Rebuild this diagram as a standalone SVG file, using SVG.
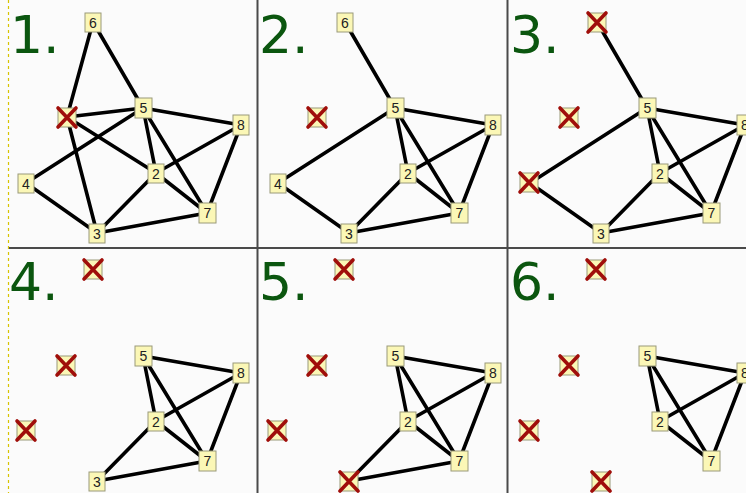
<svg xmlns="http://www.w3.org/2000/svg" width="746" height="493" viewBox="0 0 746 493">
<style>
.bg{fill:#fbfbfb}
.div{stroke:#4a4a4a;stroke-width:2;fill:none}
.dash{stroke:#d8c400;stroke-width:1.2;stroke-dasharray:3,3;fill:none}
.lbl{font-family:"DejaVu Sans",sans-serif;font-size:52px;fill:#0b560f}
.e line{stroke:#000;stroke-width:3.6;stroke-linecap:round}
.box{fill:#fbf7b6;stroke:#9a9a7a;stroke-width:1}
.num{font-family:"Liberation Sans",Arial,sans-serif;font-size:14px;fill:#222;text-anchor:middle}
.x{stroke:#a00e0a;stroke-width:3.6;stroke-linecap:round}
</style>
<rect class="bg" x="0" y="0" width="746" height="493"/>
<g id="frame">
<line class="dash" x1="8.5" y1="0" x2="8.5" y2="493"/>
<line class="div" x1="9" y1="248" x2="746" y2="248"/>
<line class="div" x1="257.5" y1="0" x2="257.5" y2="493"/>
<line class="div" x1="507.5" y1="0" x2="507.5" y2="493"/>
</g>

<!-- Panel 1 -->
<g id="panel1">
<text class="lbl" x="10" y="53">1.</text>
<g class="e" id="p1-edges">
<line x1="93" y1="22" x2="67" y2="117"/>
<line x1="93" y1="22" x2="143" y2="108"/>
<line x1="67" y1="117" x2="143" y2="108"/>
<line x1="67" y1="117" x2="156" y2="173"/>
<line x1="67" y1="117" x2="97" y2="233"/>
<line x1="143" y1="108" x2="26" y2="183"/>
<line x1="143" y1="108" x2="241" y2="125"/>
<line x1="143" y1="108" x2="156" y2="173"/>
<line x1="143" y1="108" x2="207" y2="213"/>
<line x1="241" y1="125" x2="156" y2="173"/>
<line x1="241" y1="125" x2="207" y2="213"/>
<line x1="26" y1="183" x2="97" y2="233"/>
<line x1="156" y1="173" x2="97" y2="233"/>
<line x1="156" y1="173" x2="207" y2="213"/>
<line x1="97" y1="233" x2="207" y2="213"/>
</g>
<g id="p1-n1"><rect class="box" x="58" y="108" width="18" height="19"/><path class="x" d="M58,108L76,127M76,108L58,127"/></g>
<g id="p1-n2"><rect class="box" x="148" y="164" width="16" height="19"/><text class="num" x="156" y="178.5">2</text></g>
<g id="p1-n3"><rect class="box" x="89" y="224" width="16" height="19"/><text class="num" x="97" y="238.5">3</text></g>
<g id="p1-n4"><rect class="box" x="18" y="174" width="16" height="19"/><text class="num" x="26" y="188.5">4</text></g>
<g id="p1-n5"><rect class="box" x="135" y="98" width="17" height="20"/><text class="num" x="143.5" y="113">5</text></g>
<g id="p1-n6"><rect class="box" x="85" y="13" width="16" height="19"/><text class="num" x="93" y="27.5">6</text></g>
<g id="p1-n7"><rect class="box" x="199" y="203" width="17" height="20"/><text class="num" x="207.5" y="218">7</text></g>
<g id="p1-n8"><rect class="box" x="233" y="115" width="16" height="20"/><text class="num" x="241" y="130">8</text></g>
</g>

<!-- Panel 2 -->
<g id="panel2" transform="translate(252,0)">
<text class="lbl" x="7" y="53">2.</text>
<g class="e" id="p2-edges">
<line x1="93" y1="22" x2="143" y2="108"/>
<line x1="143" y1="108" x2="26" y2="183"/>
<line x1="143" y1="108" x2="241" y2="125"/>
<line x1="143" y1="108" x2="156" y2="173"/>
<line x1="143" y1="108" x2="207" y2="213"/>
<line x1="241" y1="125" x2="156" y2="173"/>
<line x1="241" y1="125" x2="207" y2="213"/>
<line x1="26" y1="183" x2="97" y2="233"/>
<line x1="156" y1="173" x2="97" y2="233"/>
<line x1="156" y1="173" x2="207" y2="213"/>
<line x1="97" y1="233" x2="207" y2="213"/>
</g>
<g id="p2-n1"><rect class="box" x="56" y="108" width="18" height="19"/><path class="x" d="M56,108L74,127M74,108L56,127"/></g>
<g id="p2-n2"><rect class="box" x="148" y="164" width="16" height="19"/><text class="num" x="156" y="178.5">2</text></g>
<g id="p2-n3"><rect class="box" x="89" y="224" width="16" height="19"/><text class="num" x="97" y="238.5">3</text></g>
<g id="p2-n4"><rect class="box" x="18" y="174" width="16" height="19"/><text class="num" x="26" y="188.5">4</text></g>
<g id="p2-n5"><rect class="box" x="135" y="98" width="17" height="20"/><text class="num" x="143.5" y="113">5</text></g>
<g id="p2-n6"><rect class="box" x="85" y="13" width="16" height="19"/><text class="num" x="93" y="27.5">6</text></g>
<g id="p2-n7"><rect class="box" x="199" y="203" width="17" height="20"/><text class="num" x="207.5" y="218">7</text></g>
<g id="p2-n8"><rect class="box" x="233" y="115" width="16" height="20"/><text class="num" x="241" y="130">8</text></g>
</g>

<!-- Panel 3 -->
<g id="panel3" transform="translate(504,0)">
<text class="lbl" x="6" y="53">3.</text>
<g class="e" id="p3-edges">
<line x1="93" y1="22" x2="143" y2="108"/>
<line x1="143" y1="108" x2="26" y2="183"/>
<line x1="143" y1="108" x2="241" y2="125"/>
<line x1="143" y1="108" x2="156" y2="173"/>
<line x1="143" y1="108" x2="207" y2="213"/>
<line x1="241" y1="125" x2="156" y2="173"/>
<line x1="241" y1="125" x2="207" y2="213"/>
<line x1="26" y1="183" x2="97" y2="233"/>
<line x1="156" y1="173" x2="97" y2="233"/>
<line x1="156" y1="173" x2="207" y2="213"/>
<line x1="97" y1="233" x2="207" y2="213"/>
</g>
<g id="p3-n1"><rect class="box" x="56" y="108" width="18" height="19"/><path class="x" d="M56,108L74,127M74,108L56,127"/></g>
<g id="p3-n2"><rect class="box" x="148" y="164" width="16" height="19"/><text class="num" x="156" y="178.5">2</text></g>
<g id="p3-n3"><rect class="box" x="89" y="224" width="16" height="19"/><text class="num" x="97" y="238.5">3</text></g>
<g id="p3-n4"><rect class="box" x="16" y="173" width="18" height="19"/><path class="x" d="M16,173L34,192M34,173L16,192"/></g>
<g id="p3-n5"><rect class="box" x="135" y="98" width="17" height="20"/><text class="num" x="143.5" y="113">5</text></g>
<g id="p3-n6"><rect class="box" x="84" y="13" width="18" height="19"/><path class="x" d="M84,13L102,32M102,13L84,32"/></g>
<g id="p3-n7"><rect class="box" x="199" y="203" width="17" height="20"/><text class="num" x="207.5" y="218">7</text></g>
<g id="p3-n8"><rect class="box" x="233" y="115" width="16" height="20"/><text class="num" x="241" y="130">8</text></g>
</g>

<!-- Panel 4 -->
<g id="panel4" transform="translate(0,248)">
<text class="lbl" x="9" y="52">4.</text>
<g class="e" id="p4-edges">
<line x1="143" y1="108" x2="241" y2="125"/>
<line x1="143" y1="108" x2="156" y2="173"/>
<line x1="143" y1="108" x2="207" y2="213"/>
<line x1="241" y1="125" x2="156" y2="173"/>
<line x1="241" y1="125" x2="207" y2="213"/>
<line x1="156" y1="173" x2="97" y2="233"/>
<line x1="156" y1="173" x2="207" y2="213"/>
<line x1="97" y1="233" x2="207" y2="213"/>
</g>
<g id="p4-n1"><rect class="box" x="57" y="108" width="18" height="19"/><path class="x" d="M57,108L75,127M75,108L57,127"/></g>
<g id="p4-n2"><rect class="box" x="148" y="164" width="16" height="19"/><text class="num" x="156" y="178.5">2</text></g>
<g id="p4-n3"><rect class="box" x="89" y="224" width="16" height="19"/><text class="num" x="97" y="238.5">3</text></g>
<g id="p4-n4"><rect class="box" x="17" y="173" width="18" height="19"/><path class="x" d="M17,173L35,192M35,173L17,192"/></g>
<g id="p4-n5"><rect class="box" x="135" y="98" width="17" height="20"/><text class="num" x="143.5" y="113">5</text></g>
<g id="p4-n6"><rect class="box" x="84" y="12" width="18" height="19"/><path class="x" d="M84,12L102,31M102,12L84,31"/></g>
<g id="p4-n7"><rect class="box" x="199" y="203" width="17" height="20"/><text class="num" x="207.5" y="218">7</text></g>
<g id="p4-n8"><rect class="box" x="233" y="115" width="16" height="20"/><text class="num" x="241" y="130">8</text></g>
</g>

<!-- Panel 5 -->
<g id="panel5" transform="translate(252,248)">
<text class="lbl" x="7" y="52">5.</text>
<g class="e" id="p5-edges">
<line x1="143" y1="108" x2="241" y2="125"/>
<line x1="143" y1="108" x2="156" y2="173"/>
<line x1="143" y1="108" x2="207" y2="213"/>
<line x1="241" y1="125" x2="156" y2="173"/>
<line x1="241" y1="125" x2="207" y2="213"/>
<line x1="156" y1="173" x2="97" y2="233"/>
<line x1="156" y1="173" x2="207" y2="213"/>
<line x1="97" y1="233" x2="207" y2="213"/>
</g>
<g id="p5-n1"><rect class="box" x="56" y="108" width="18" height="19"/><path class="x" d="M56,108L74,127M74,108L56,127"/></g>
<g id="p5-n2"><rect class="box" x="148" y="164" width="16" height="19"/><text class="num" x="156" y="178.5">2</text></g>
<g id="p5-n3"><rect class="box" x="88" y="224" width="18" height="19"/><path class="x" d="M88,224L106,243M106,224L88,243"/></g>
<g id="p5-n4"><rect class="box" x="16" y="173" width="18" height="19"/><path class="x" d="M16,173L34,192M34,173L16,192"/></g>
<g id="p5-n5"><rect class="box" x="135" y="98" width="17" height="20"/><text class="num" x="143.5" y="113">5</text></g>
<g id="p5-n6"><rect class="box" x="83" y="12" width="18" height="19"/><path class="x" d="M83,12L101,31M101,12L83,31"/></g>
<g id="p5-n7"><rect class="box" x="199" y="203" width="17" height="20"/><text class="num" x="207.5" y="218">7</text></g>
<g id="p5-n8"><rect class="box" x="233" y="115" width="16" height="20"/><text class="num" x="241" y="130">8</text></g>
</g>

<!-- Panel 6 -->
<g id="panel6" transform="translate(504,248)">
<text class="lbl" x="6" y="52">6.</text>
<g class="e" id="p6-edges">
<line x1="143" y1="108" x2="241" y2="125"/>
<line x1="143" y1="108" x2="156" y2="173"/>
<line x1="143" y1="108" x2="207" y2="213"/>
<line x1="241" y1="125" x2="156" y2="173"/>
<line x1="241" y1="125" x2="207" y2="213"/>
<line x1="156" y1="173" x2="207" y2="213"/>
</g>
<g id="p6-n1"><rect class="box" x="56" y="108" width="18" height="19"/><path class="x" d="M56,108L74,127M74,108L56,127"/></g>
<g id="p6-n2"><rect class="box" x="148" y="164" width="16" height="19"/><text class="num" x="156" y="178.5">2</text></g>
<g id="p6-n3"><rect class="box" x="88" y="224" width="18" height="19"/><path class="x" d="M88,224L106,243M106,224L88,243"/></g>
<g id="p6-n4"><rect class="box" x="16" y="173" width="18" height="19"/><path class="x" d="M16,173L34,192M34,173L16,192"/></g>
<g id="p6-n5"><rect class="box" x="135" y="98" width="17" height="20"/><text class="num" x="143.5" y="113">5</text></g>
<g id="p6-n6"><rect class="box" x="83" y="12" width="18" height="19"/><path class="x" d="M83,12L101,31M101,12L83,31"/></g>
<g id="p6-n7"><rect class="box" x="199" y="203" width="17" height="20"/><text class="num" x="207.5" y="218">7</text></g>
<g id="p6-n8"><rect class="box" x="233" y="115" width="16" height="20"/><text class="num" x="241" y="130">8</text></g>
</g>
</svg>
